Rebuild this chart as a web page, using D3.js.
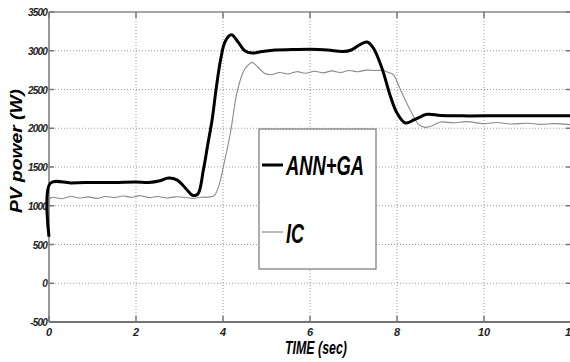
<!DOCTYPE html>
<html>
<head>
<meta charset="utf-8">
<script src="https://cdn.jsdelivr.net/npm/d3@7/dist/d3.min.js"></script>
<style>
  body { margin: 0; background: #fff; }
  svg { display: block; }
  text { font-family: "Liberation Sans", Arial, sans-serif; font-weight: bold; font-style: italic; }
</style>
</head>
<body>
<svg id="chart" width="570" height="362"></svg>
<script>
// x ticks and y ticks
const xTicks = [0, 2, 4, 6, 8, 10, 12];
const yTicks = [-500, 0, 500, 1000, 1500, 2000, 2500, 3000, 3500];

// ANN+GA response (time in sec, power in W)
const annTime = [0, 0.03, 0.5, 1.0, 1.5, 2.0, 2.3, 2.55, 2.75, 2.95, 3.15, 3.3, 3.42, 3.55, 3.65, 3.75, 3.85, 3.95, 4.05, 4.19, 4.35, 4.5, 4.67, 4.9, 5.2, 5.6, 6.0, 6.4, 6.75, 6.95, 7.15, 7.31, 7.45, 7.65, 7.85, 8.0, 8.19, 8.4, 8.69, 9.0, 9.5, 10, 11, 12];
const annPower = [600, 1290, 1295, 1300, 1300, 1305, 1300, 1322, 1358, 1330, 1220, 1135, 1150, 1466, 1790, 2110, 2540, 2900, 3120, 3205, 3110, 3000, 2970, 2990, 3010, 3015, 3020, 3010, 2990, 3010, 3080, 3112, 3040, 2780, 2411, 2197, 2068, 2110, 2180, 2165, 2160, 2160, 2160, 2160];

// IC response
const icTime = [0, 0.03, 0.3, 0.5, 0.7, 0.9, 1.1, 1.3, 1.5, 1.7, 1.9, 2.1, 2.3, 2.5, 2.7, 2.9, 3.1, 3.3, 3.5, 3.7, 3.8, 3.9, 4.01, 4.17, 4.32, 4.47, 4.57, 4.67, 4.8, 4.95, 5.1, 5.3, 5.5, 5.7, 5.9, 6.1, 6.3, 6.5, 6.7, 6.9, 7.1, 7.3, 7.5, 7.7, 7.8, 7.92, 8.03, 8.15, 8.34, 8.5, 8.65, 8.8, 9.0, 9.3, 9.6, 10, 10.3, 10.6, 11, 11.3, 11.6, 12];
const icPower = [600, 1100, 1090, 1120, 1100, 1115, 1095, 1120, 1105, 1125, 1110, 1130, 1105, 1120, 1100, 1115, 1110, 1095, 1110, 1115, 1130, 1250, 1508, 1939, 2455, 2733, 2810, 2850, 2790, 2710, 2690, 2720, 2700, 2730, 2710, 2735, 2715, 2740, 2720, 2745, 2730, 2750, 2745, 2745, 2720, 2690, 2560, 2411, 2197, 2046, 2011, 2030, 2080, 2070, 2085, 2060, 2075, 2055, 2065, 2050, 2060, 2045];

const legendLabels = ["ANN+GA", "IC"];

const margin = { top: 12, left: 49, right: 0, bottom: 40 };
const svg = d3.select("#chart");
const W = 570, H = 362;
const plotW = 522, plotH = 310;

const x = d3.scaleLinear().domain([0, 12]).range([margin.left, margin.left + plotW]);
const y = d3.scaleLinear().domain([-500, 3500]).range([margin.top + plotH, margin.top]);

const g = svg.append("g");

// grid
g.selectAll(".gx").data(xTicks.slice(1, -1)).enter().append("line")
  .attr("x1", d => x(d)).attr("x2", d => x(d))
  .attr("y1", y(3500)).attr("y2", y(-500))
  .attr("stroke", "#999").attr("stroke-width", 1).attr("stroke-dasharray", "1,2");
g.selectAll(".gy").data(yTicks.slice(1, -1)).enter().append("line")
  .attr("x1", x(0)).attr("x2", x(12))
  .attr("y1", d => y(d)).attr("y2", d => y(d))
  .attr("stroke", "#999").attr("stroke-width", 1).attr("stroke-dasharray", "1,2");

// frame
g.append("line").attr("x1", x(0)).attr("x2", x(12)).attr("y1", y(3500)).attr("y2", y(3500))
  .attr("stroke", "#888").attr("stroke-width", 1.5);
g.append("line").attr("x1", x(0)).attr("x2", x(12)).attr("y1", y(-500)).attr("y2", y(-500))
  .attr("stroke", "#444").attr("stroke-width", 1.5);
g.append("line").attr("x1", x(0)).attr("x2", x(0)).attr("y1", y(3500)).attr("y2", y(-500))
  .attr("stroke", "#999").attr("stroke-width", 2);
g.append("line").attr("x1", x(12)).attr("x2", x(12)).attr("y1", y(3500)).attr("y2", y(-500))
  .attr("stroke", "#888").attr("stroke-width", 1.5);

// inner ticks
g.selectAll(".tb").data(xTicks).enter().append("line")
  .attr("x1", d => x(d)).attr("x2", d => x(d))
  .attr("y1", y(-500)).attr("y2", y(-500) - 6).attr("stroke", "#777").attr("stroke-width", 1.5);
g.selectAll(".tt").data(xTicks).enter().append("line")
  .attr("x1", d => x(d)).attr("x2", d => x(d))
  .attr("y1", y(3500)).attr("y2", y(3500) + 6).attr("stroke", "#777").attr("stroke-width", 1.5);
g.selectAll(".tl").data(yTicks).enter().append("line")
  .attr("x1", x(0)).attr("x2", x(0) + 5)
  .attr("y1", d => y(d)).attr("y2", d => y(d)).attr("stroke", "#777").attr("stroke-width", 1.5);
g.selectAll(".tr").data(yTicks).enter().append("line")
  .attr("x1", x(12)).attr("x2", x(12) - 5)
  .attr("y1", d => y(d)).attr("y2", d => y(d)).attr("stroke", "#777").attr("stroke-width", 1.5);

// tick labels
g.selectAll(".xl").data(xTicks).enter().append("text")
  .attr("x", d => x(d)).attr("y", y(-500) + 14)
  .attr("text-anchor", "middle").attr("font-size", 11).attr("fill", "#222")
  .text(d => d);
g.selectAll(".yl").data(yTicks).enter().append("text")
  .attr("x", x(0) - 2).attr("y", d => y(d) + 4)
  .attr("text-anchor", "end").attr("font-size", 10).attr("fill", "#222")
  .attr("letter-spacing", -0.8)
  .text(d => d);

// axis titles
g.append("text")
  .attr("transform", "translate(22,151) rotate(-90)")
  .attr("text-anchor", "middle").attr("font-size", 16).attr("fill", "#000")
  .attr("textLength", 124).attr("lengthAdjust", "spacingAndGlyphs")
  .text("PV power (W)");
g.append("text")
  .attr("x", 285).attr("y", 354)
  .attr("font-size", 18).attr("fill", "#000")
  .attr("textLength", 62).attr("lengthAdjust", "spacingAndGlyphs")
  .text("TIME (sec)");

// series
const line = d3.line().curve(d3.curveCatmullRom.alpha(0.5)).x(d => x(d[0])).y(d => y(d[1]));
const icData = icTime.map((t, i) => [t, icPower[i]]);
const annData = annTime.map((t, i) => [t, annPower[i]]);

g.append("path").datum(icData).attr("d", line)
  .attr("fill", "none").attr("stroke", "#8a8a8a").attr("stroke-width", 1.1);
g.append("path").datum(annData).attr("d", line)
  .attr("fill", "none").attr("stroke", "#000").attr("stroke-width", 3);

// legend
const lg = g.append("g");
lg.append("rect").attr("x", 259).attr("y", 129).attr("width", 117).attr("height", 140)
  .attr("fill", "#fff").attr("stroke", "#777").attr("stroke-width", 1.2);
lg.append("line").attr("x1", 262).attr("x2", 283).attr("y1", 165).attr("y2", 165)
  .attr("stroke", "#000").attr("stroke-width", 3);
lg.append("text").attr("x", 286).attr("y", 175).attr("font-size", 28).attr("fill", "#000")
  .attr("textLength", 78).attr("lengthAdjust", "spacingAndGlyphs")
  .text(legendLabels[0]);
lg.append("line").attr("x1", 262).attr("x2", 283).attr("y1", 232).attr("y2", 232)
  .attr("stroke", "#777").attr("stroke-width", 1);
lg.append("text").attr("x", 286).attr("y", 243).attr("font-size", 28).attr("fill", "#000")
  .attr("textLength", 18).attr("lengthAdjust", "spacingAndGlyphs")
  .text(legendLabels[1]);
</script>
</body>
</html>
